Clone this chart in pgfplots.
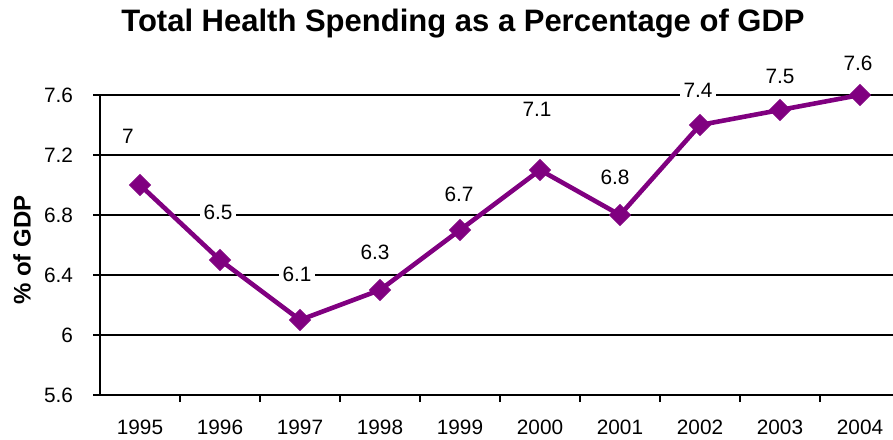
\documentclass[border=0pt]{standalone}
\usepackage{pgfplots}
\usepackage{pgfplotstable}
\pgfplotsset{compat=1.18}
\usepackage{fontspec}
\setmainfont{Liberation Sans}
\definecolor{plum}{RGB}{128,0,128}
\pgfplotstableread{
x y dx dy
1995 7 -6 24.5
1996 6.5 -1 24
1997 6.1 -1.5 23
1998 6.3 -2.5 19
1999 6.7 -0.5 18
2000 7.1 -1.5 30.5
2001 6.8 -2.5 19
2002 7.4 -1 17.5
2003 7.5 0 17
2004 7.6 -1 16
}\datatable
\begin{document}
\begin{tikzpicture}
\path[use as bounding box] (-50pt,-22pt) rectangle (396.5pt,197.5pt);
\begin{axis}[
  at={(0,0)}, anchor=south west,
  scale only axis, width=396.5pt, height=150pt,
  xmin=1994.5, xmax=2004.4125, ymin=5.6, ymax=7.6,
  clip=false,
  axis x line*=bottom, axis y line*=left,
  axis line style={-, line width=1.4pt, black},
  xtick={1995.5,1996.5,...,2003.5}, xticklabels={},
  extra x ticks={1995,1996,...,2004},
  extra x tick labels={1995,1996,1997,1998,1999,2000,2001,2002,2003,2004},
  extra x tick style={major tick length=0pt, xticklabel style={yshift=-9pt}},
  ytick={5.6,6,6.4,6.8,7.2,7.6},
  yticklabels={5.6,6,6.4,6.8,7.2,7.6},
  yticklabel style={xshift=-6.5pt},
  tick align=outside, major tick length=3.5pt,
  tick style={black, line width=1.2pt},
  tick label style={font=\fontsize{10.4}{12}\selectfont},
  ymajorgrids, major grid style={black, line width=1.2pt},
  ylabel={\% of GDP},
  every axis y label/.style={at={(axis description cs:-0.0984,0.483)}, rotate=90, anchor=center, font=\bfseries\fontsize{12}{14}\selectfont},
]
\addplot[plum, line width=2.3pt, mark=square*, mark size=3.7pt,
  mark options={rotate=45, solid, fill=plum, line width=0.5pt},
  nodes near coords, point meta=explicit symbolic,
  visualization depends on={\thisrow{dx}\as\dx},
  visualization depends on={\thisrow{dy}\as\dy},
  every node near coord/.append style={anchor=center, xshift=\dx pt, yshift=\dy pt, fill=white, inner sep=1.8pt, text=black, font=\fontsize{10.4}{12}\selectfont}]
  table[x=x, y=y, meta=y]{\datatable};
\end{axis}
\node[font=\bfseries\fontsize{15.5}{18}\selectfont, anchor=base] at (181.5pt,181.5pt) {Total Health Spending as a Percentage of GDP};
\end{tikzpicture}
\end{document}
